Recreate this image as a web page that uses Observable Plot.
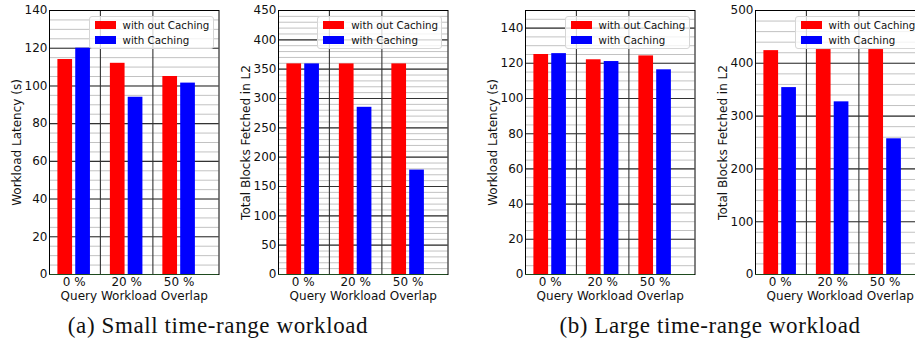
<!DOCTYPE html>
<html><head><meta charset="utf-8">
<script src="https://cdn.jsdelivr.net/npm/d3@7"></script>
<script src="https://cdn.jsdelivr.net/npm/@observablehq/plot@0.6"></script>
<style>
html,body{margin:0;padding:0;background:#fff;}
#root{position:relative;width:915px;height:343px;overflow:hidden;font-family:"DejaVu Sans",sans-serif;}
.panel{position:absolute;top:0;}
.panel svg{max-width:none !important;}
.legend{position:absolute;box-sizing:border-box;background:rgba(255,255,255,0.8);border:1px solid #d6d6d6;border-radius:3px;width:125px;height:33px;}
.legend .sw{position:absolute;left:5px;width:21px;height:8px;}
.legend .lt{position:absolute;left:33px;font-size:10.3px;line-height:12px;color:#111;white-space:nowrap;}
.caption{position:absolute;top:313px;font-family:"Liberation Serif",serif;font-size:23px;letter-spacing:0.6px;color:#111;white-space:nowrap;transform:translateX(-50%);}
</style></head><body><div id="root"></div>
<script>
const categories = ["0 %", "20 %", "50 %"];
const seriesNames = ["with out Caching", "with Caching"];
const seriesColors = ["#ff0000", "#0000ff"];
const xLabel = "Query Workload Overlap";

const latencySmallNoCache = [114, 112, 105];
const latencySmallCache = [120, 94, 101.5];
const blocksSmallNoCache = [359, 359, 359];
const blocksSmallCache = [359, 285, 178];
const latencyLargeNoCache = [125, 122, 124.2];
const latencyLargeCache = [125.5, 121, 116.3];
const blocksLargeNoCache = [424, 426, 426];
const blocksLargeCache = [354, 327, 257];

const yLabels = ["Workload Latency (s)", "Total Blocks Fetched in L2", "Workload Latency (s)", "Total Blocks Fetched in L2"];
const yMax = [140, 450, 150, 500];
const yMajorTicks = [
  [0, 20, 40, 60, 80, 100, 120, 140],
  [0, 50, 100, 150, 200, 250, 300, 350, 400, 450],
  [0, 20, 40, 60, 80, 100, 120, 140],
  [0, 100, 200, 300, 400, 500]
];
const yMinorStep = [5, 10, 5, 20];
const captions = ["(a) Small time-range workload", "(b) Large time-range workload"];

const panels = [
  {left: 49, noCache: latencySmallNoCache, cache: latencySmallCache},
  {left: 277.7, noCache: blocksSmallNoCache, cache: blocksSmallCache},
  {left: 525, noCache: latencyLargeNoCache, cache: latencyLargeCache},
  {left: 755, noCache: blocksLargeNoCache, cache: blocksLargeCache}
];

const root = document.getElementById("root");
const ML = 60, MR = 10, FW = 169.5;

panels.forEach((p, k) => {
  const rows = categories.map((c, i) => ({i, a: p.noCache[i], b: p.cache[i]}));
  const minor = d3.range(0, yMax[k] + 0.001, yMinorStep[k]);
  const major = yMajorTicks[k];
  const chart = Plot.plot({
    width: ML + FW + MR, height: 343,
    marginLeft: ML, marginRight: MR, marginTop: 10, marginBottom: 69,
    x: {domain: [-0.47, 2.76], axis: null},
    y: {domain: [0, yMax[k]], axis: null},
    style: {fontFamily: "DejaVu Sans", fontSize: "12px", background: "transparent", overflow: "visible", color: "#111", maxWidth: "none"},
    marks: [
      Plot.ruleY(minor, {stroke: "#c2c2c2", strokeWidth: 1}),
      Plot.ruleY(major, {stroke: "#333", strokeWidth: 1.1}),
      Plot.ruleX([0.5, 1.5], {stroke: "#333", strokeWidth: 1.1}),
      Plot.rectY(rows, {x1: d => d.i - 0.31, x2: d => d.i - 0.03, y1: 0, y2: "a", fill: seriesColors[0]}),
      Plot.rectY(rows, {x1: d => d.i + 0.03, x2: d => d.i + 0.31, y1: 0, y2: "b", fill: seriesColors[1]}),
      Plot.frame({stroke: "#000", strokeWidth: 1}),
      Plot.ruleY([0], {stroke: "#1e4a1e", strokeWidth: 1.2}),
      Plot.axisY({ticks: major, tickSize: 0, tickPadding: 2, fontSize: 12, label: null}),
      Plot.axisX({ticks: [0, 1, 2], tickFormat: i => categories[i], tickSize: 0, tickPadding: 3, fontSize: 12, label: null}),
      Plot.text([yLabels[k]], {frameAnchor: "left", dx: -32, rotate: -90, textAnchor: "middle", lineAnchor: "middle", fontSize: 12}),
      Plot.text([xLabel], {frameAnchor: "bottom", dy: 22, textAnchor: "middle", lineAnchor: "middle", fontSize: 12})
    ]
  });
  const wrap = document.createElement("div");
  wrap.className = "panel";
  wrap.style.left = (p.left - ML) + "px";
  wrap.style.width = (ML + FW + MR) + "px";
  wrap.appendChild(chart);
  root.appendChild(wrap);

  const lg = document.createElement("div");
  lg.className = "legend";
  lg.style.left = (p.left + FW - 5 - 125) + "px";
  lg.style.top = "15.7px";
  seriesNames.forEach((name, j) => {
    const sw = document.createElement("div");
    sw.className = "sw";
    sw.style.top = (4.3 + j * 15) + "px";
    sw.style.background = seriesColors[j];
    lg.appendChild(sw);
    const t = document.createElement("div");
    t.className = "lt";
    t.style.top = (2.3 + j * 15) + "px";
    t.textContent = name;
    lg.appendChild(t);
  });
  root.appendChild(lg);
});

[218, 710].forEach((cx, j) => {
  const c = document.createElement("div");
  c.className = "caption";
  c.style.left = cx + "px";
  c.textContent = captions[j];
  root.appendChild(c);
});
</script>
</body></html>
